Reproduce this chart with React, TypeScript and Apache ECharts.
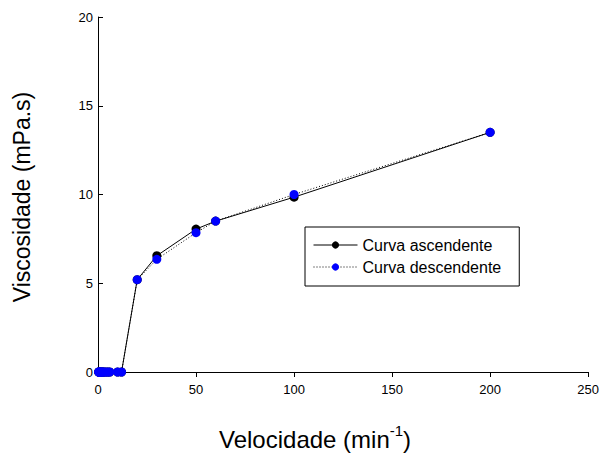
import React, { useEffect, useRef } from "react";
import * as echarts from "echarts";

// Rotational speed (min^-1) and measured viscosity (mPa.s)
const speeds = [0.3, 0.5, 0.6, 1, 1.5, 2, 2.5, 3, 4, 5, 6, 10, 12, 20, 30, 50, 60, 100, 200];
const ascending = [0, 0, 0, 0, 0, 0, 0, 0, 0, 0, 0, 0, 0, 5.2, 6.55, 8.05, 8.5, 9.85, 13.5];
const descending = [0, 0, 0, 0, 0, 0, 0, 0, 0, 0, 0, 0, 0, 5.2, 6.35, 7.85, 8.5, 10.0, 13.5];

const xTicks = [0, 50, 100, 150, 200, 250];
const yTicks = [0, 5, 10, 15, 20];

const FONT = "'Liberation Sans', Arial, sans-serif";

export default function App() {
  const ref = useRef<HTMLDivElement>(null);

  useEffect(() => {
    document.body.style.margin = "0";
    if (!ref.current) return;
    const chart = echarts.init(ref.current, undefined, { renderer: "svg" });

    const pair = (ys: number[]) => speeds.map((x, i) => [x, ys[i]]);

    chart.setOption({
      animation: false,
      backgroundColor: "#ffffff",
      textStyle: { fontFamily: FONT },
      grid: { left: 98, top: 17, right: 12, bottom: 87, containLabel: false },
      xAxis: {
        type: "value",
        min: xTicks[0],
        max: xTicks[xTicks.length - 1],
        interval: xTicks[1] - xTicks[0],
        axisLine: { onZero: false, lineStyle: { color: "#000", width: 1 } },
        axisTick: { inside: false, length: 5, lineStyle: { color: "#000" } },
        axisLabel: { color: "#000", fontSize: 13, margin: 11, fontFamily: FONT },
        splitLine: { show: false },
      },
      yAxis: {
        type: "value",
        min: yTicks[0],
        max: yTicks[yTicks.length - 1],
        interval: yTicks[1] - yTicks[0],
        axisLine: { show: true, onZero: false, lineStyle: { color: "#000", width: 1 } },
        axisTick: { show: true, inside: true, length: 5, lineStyle: { color: "#000" } },
        axisLabel: { color: "#000", fontSize: 13, margin: 5, fontFamily: FONT },
        splitLine: { show: false },
      },
      legend: {
        left: 305,
        top: 227,
        orient: "vertical",
        padding: [10, 18, 11, 8],
        itemGap: 6,
        itemWidth: 44,
        itemHeight: 9,
        borderColor: "#000",
        borderWidth: 1,
        borderRadius: 0,
        lineStyle: { width: 1 },
        textStyle: { color: "#000", fontSize: 16, fontFamily: FONT },
        data: ["Curva ascendente", "Curva descendente"],
      },
      series: [
        {
          name: "Curva ascendente",
          type: "line",
          data: pair(ascending),
          symbol: "circle",
          symbolSize: 9,
          itemStyle: { color: "#000" },
          lineStyle: { color: "#000", width: 1, type: "solid" },
          z: 2,
        },
        {
          name: "Curva descendente",
          type: "line",
          data: pair(descending),
          symbol: "circle",
          symbolSize: 9,
          itemStyle: { color: "#0000ff" },
          lineStyle: { color: "#000", width: 1, type: [1, 2] },
          z: 3,
        },
      ],
      graphic: [
        {
          type: "text",
          x: 22,
          y: 197,
          rotation: Math.PI / 2,
          style: {
            text: "Viscosidade (mPa.s)",
            fontSize: 23,
            fontFamily: FONT,
            fill: "#000",
            align: "center",
            verticalAlign: "middle",
          },
        },
        {
          type: "text",
          x: 219,
          y: 437,
          style: {
            text: "{a|Velocidade (min}{s|-1}{a|)}",
            fontFamily: FONT,
            fill: "#000",
            align: "left",
            verticalAlign: "middle",
            rich: {
              a: { fontSize: 24, fontFamily: FONT, fill: "#000", verticalAlign: "bottom", lineHeight: 28 },
              s: { fontSize: 15, fontFamily: FONT, fill: "#000", verticalAlign: "top", lineHeight: 28, padding: [0, 0, 12, 0] },
            },
          },
        },
      ],
    });

    return () => chart.dispose();
  }, []);

  return <div ref={ref} style={{ width: 602, height: 459 }} />;
}
